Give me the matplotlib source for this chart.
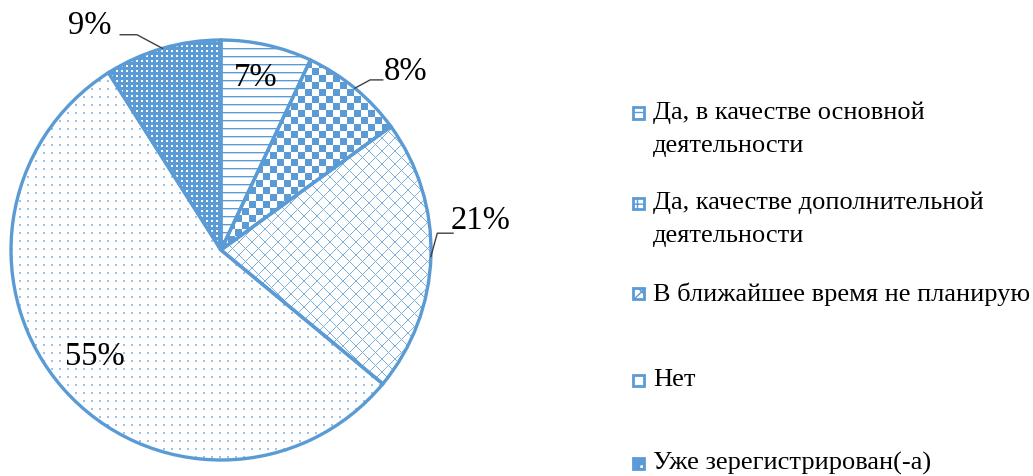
import matplotlib
import numpy as np

matplotlib.use("Agg")
import matplotlib.pyplot as plt  # noqa: E402
from matplotlib.colors import LinearSegmentedColormap  # noqa: E402
from matplotlib.patches import Rectangle  # noqa: E402

labels = [
    "Да, в качестве основной\nдеятельности",
    "Да, качестве дополнительной\nдеятельности",
    "В ближайшее время не планирую",
    "Нет",
    "Уже зерегистрирован(-а)",
]
values = [7, 8, 21, 55, 9]
pct_text = [f"{v}%" for v in values]

BLUE = "#5b9bd5"
W, H = 1033, 476
plt.rcParams["font.family"] = ["Liberation Serif", "DejaVu Serif"]
cmap = LinearSegmentedColormap.from_list("wb", ["white", BLUE])


def pattern(kind: str, n: int) -> np.ndarray:
    yy, xx = np.mgrid[0:n, 0:n]
    a = np.zeros((n, n))
    if kind == "hlines":
        a[yy % 8 == 0] = 1.0
        a[yy % 8 == 1] = 0.35
    elif kind == "checker":
        a = (((xx // 7) + (yy // 7)) % 2).astype(float)
    elif kind == "lattice":
        a[((xx + yy) % 13 == 0) | ((xx - yy) % 13 == 0)] = 0.8
    elif kind == "dots":
        a[(xx % 8 < 2) & (yy % 8 < 2)] = 0.6
    elif kind == "bluedots":
        a[:] = 1.0
        a[(xx % 5 < 2) & (yy % 5 < 2)] = 0.0
    return a


fig = plt.figure(figsize=(W / 100, H / 100), dpi=100)
cx, cy, r = 221, 250, 210
ax = fig.add_axes([(cx - r) / W, (H - cy - r) / H, 2 * r / W, 2 * r / H])

fills, _ = ax.pie(values, startangle=90, counterclock=False, radius=1,
                  colors=["white"] * 5, wedgeprops=dict(linewidth=0))
kinds = ["hlines", "checker", "lattice", "dots", "bluedots"]
for w, k in zip(fills, kinds):
    im = ax.imshow(pattern(k, 2 * r), extent=(-1, 1, -1, 1), cmap=cmap, vmin=0, vmax=1,
                   interpolation="nearest", zorder=1.5)
    im.set_clip_path(w)

outline, _ = ax.pie(values, startangle=90, counterclock=False, radius=1,
                    colors=["none"] * 5, wedgeprops=dict(edgecolor=BLUE, linewidth=2.4))
for w in outline:
    w.set_zorder(3)

ax.set_xlim(-1, 1)
ax.set_ylim(-1, 1)
ax.set_aspect("equal")
ax.axis("off")

# percent labels
angles = []
start = 90.0
for v in values:
    span = 360.0 * v / sum(values)
    angles.append(np.deg2rad(start - span / 2))
    start -= span

label_pos = [(0.165, 0.82), (0.88, 0.85), (1.235, 0.14), (-0.6, -0.51), (-0.625, 1.07)]
elbow = [None, (0.71, 0.81), (1.03, 0.08), None, (-0.40, 1.025)]
tail = [None, (0.77, 0.81), (1.105, 0.08), None, (-0.48, 1.025)]
for i, t in enumerate(pct_text):
    ax.text(*label_pos[i], t, ha="center", va="center", fontsize=23.5, clip_on=False, zorder=5)
    if elbow[i] is not None:
        a = angles[i]
        ex, ey = np.cos(a), np.sin(a)
        ax.plot([ex, elbow[i][0], tail[i][0]], [ey, elbow[i][1], tail[i][1]],
                color="#404040", lw=1, clip_on=False, zorder=5)

# legend drawn by hand
leg_y = [113, 203, 293, 380, 463]
leg_hatch = ["--", "++", "xx", None, ".."]
leg_face = ["white", "white", "white", "white", BLUE]
leg_hc = [BLUE, BLUE, BLUE, BLUE, "white"]
for y, lab, h, fc, hc in zip(leg_y, labels, leg_hatch, leg_face, leg_hc):
    s = 11
    fig.patches.append(Rectangle((633 / W, (H - y - s / 2) / H), s / W, s / H,
                                 transform=fig.transFigure, facecolor=fc,
                                 edgecolor=hc, hatch=h, lw=0))
    fig.patches.append(Rectangle((633 / W, (H - y - s / 2) / H), s / W, s / H,
                                 transform=fig.transFigure, facecolor="none",
                                 edgecolor=BLUE, lw=2))
    fig.text(653 / W, (H - y + 11) / H, lab, ha="left", va="top", fontsize=19,
             linespacing=1.6)

fig.savefig("out.png", dpi=100)
